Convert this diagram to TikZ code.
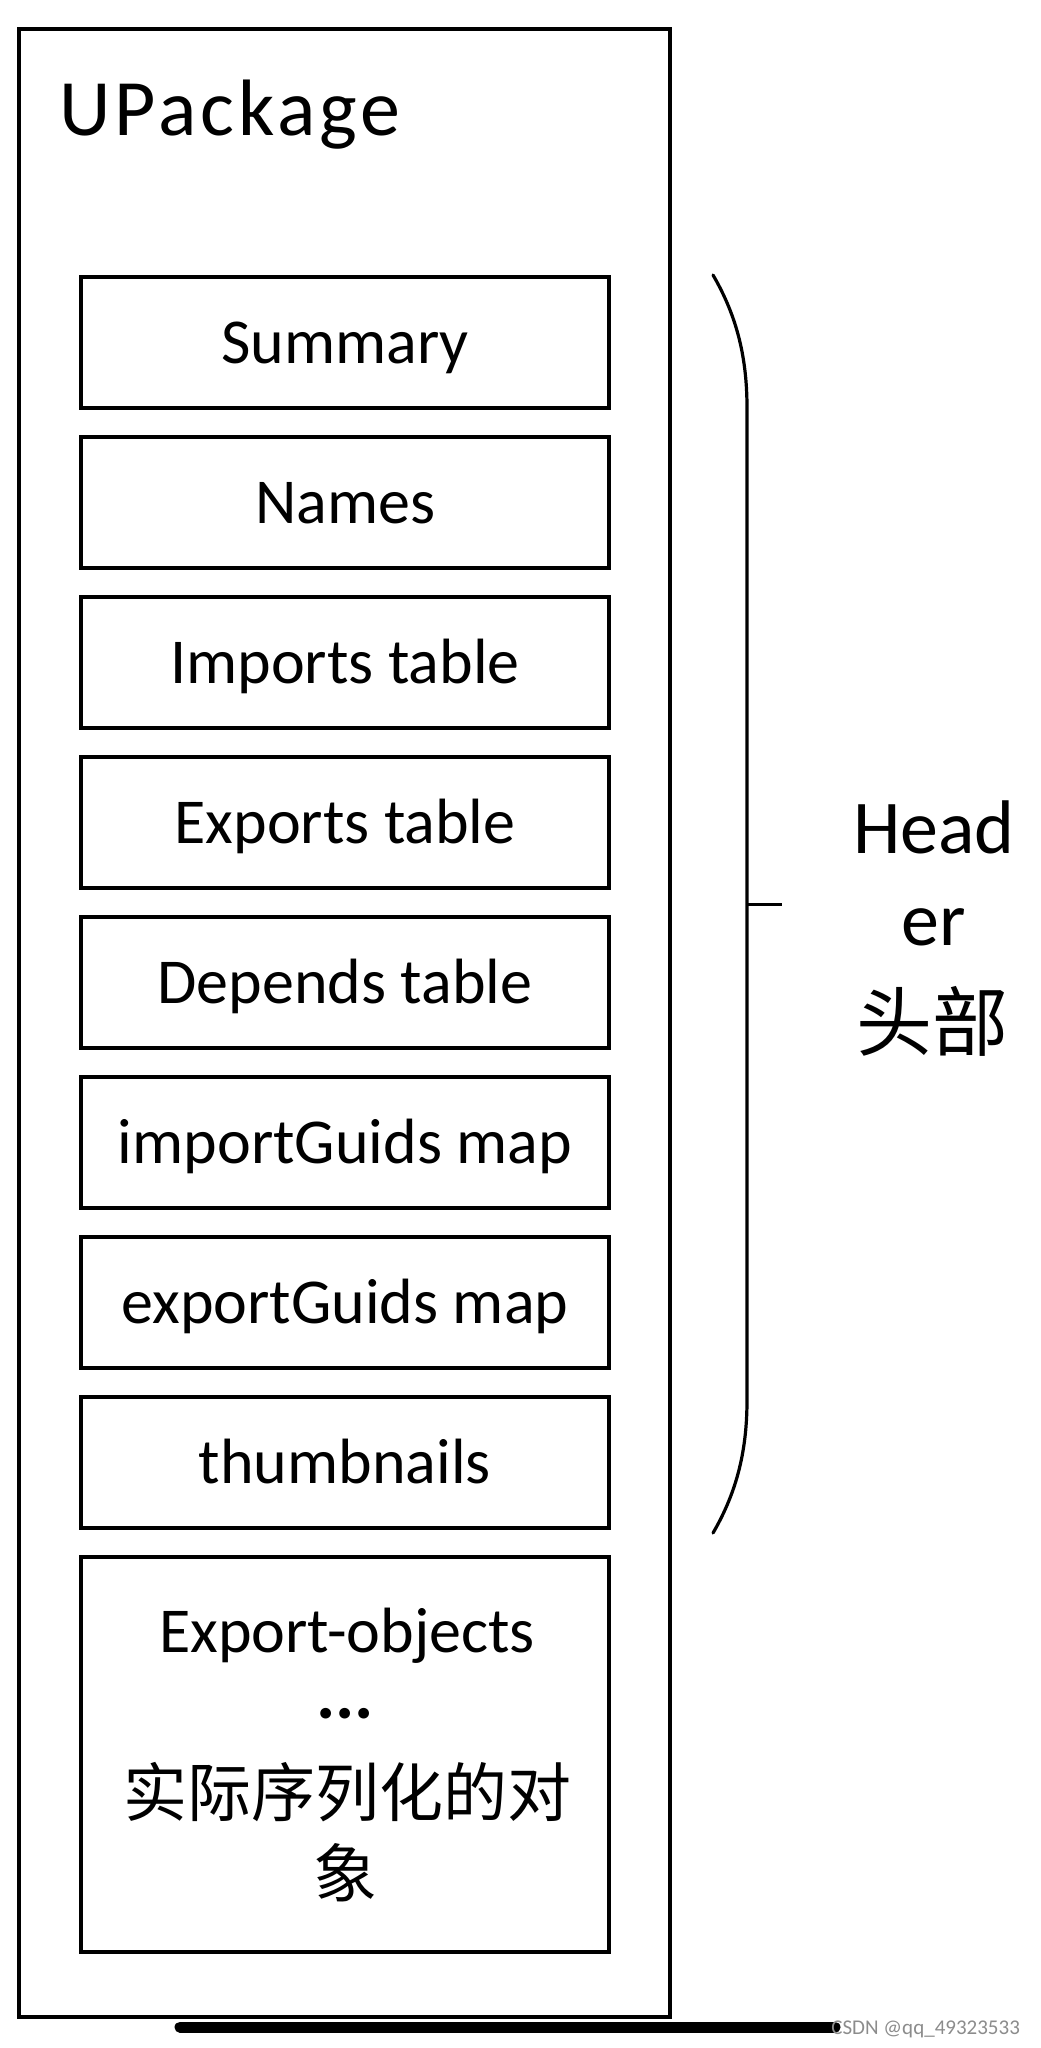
\documentclass[tikz,border=0pt]{standalone}
\usepackage{fontspec}
\setmainfont{Carlito}
\newfontfamily\titlefont[LetterSpace=5]{Carlito}
\newfontfamily\cjk{Noto Sans CJK SC}

\begin{document}
\begin{tikzpicture}[x=0.5pt, y=-0.5pt,
    package/.style ={draw, line width=2pt, minimum width=325.5pt, minimum height=994pt, inner sep=0pt},
    entry/.style ={draw, line width=2pt, minimum width=264pt, minimum height=65.5pt, inner sep=0pt,
      text height=20.6pt, text depth=0pt, font=\fontsize{32}{38}\selectfont},
    txtline/.style ={anchor=base, inner sep=0pt, font=\fontsize{32}{38}\selectfont},
    bracket/.style ={line width=1.6pt, line cap=round}]
   \useasboundingbox (0,0) rectangle (1040,2048);
   \node[package] (pkg) at (344.5,1023) {};
   \node[anchor=base west, inner sep=0pt, font=\fontsize{40}{48}\titlefont] (title) at (59,136) {UPackage};
   % header sections
   \node[entry] (summary) at (345,342.5) {Summary};
   \node[entry] (names) at (345,502.5) {Names};
   \node[entry] (imports) at (345,662.5) {Imports table};
   \node[entry] (exports) at (345,822.5) {Exports table};
   \node[entry] (depends) at (345,982.5) {Depends table};
   \node[entry] (importguids) at (345,1142.5) {importGuids map};
   \node[entry] (exportguids) at (345,1302.5) {exportGuids map};
   \node[entry] (thumbs) at (345,1462.5) {thumbnails};
   % serialized objects
   \node[entry, minimum height=197.5pt] (objects) at (345,1754.5) {};
   \node[txtline] (objA) at (347,1652) {Export-objects};
   \node[txtline, font=\fontsize{36}{42}\bfseries] (objB) at (345,1718) {...};
   \node[txtline, font=\fontsize{32}{38}\cjk] (objC) at (347,1816) {实际序列化的对};
   \node[txtline, font=\fontsize{32}{38}\cjk] (objD) at (345,1897) {象};
   % bracket
   \coordinate (bt) at (713,275);
   \coordinate (bb) at (713,1533);
   \coordinate (bm) at (747,904);
   \coordinate (tick) at (782,904);
   \draw[bracket] (bt) .. controls (738,318) and (747,360) .. (747,408)
      -- (747,1400) .. controls (747,1448) and (738,1490) .. (bb);
   \draw[line width=1.5pt] (bm) -- (tick);
   \node[txtline, font=\fontsize{38}{46}\selectfont] (hdrA) at (934,853) {Head};
   \node[txtline, font=\fontsize{38}{46}\selectfont] (hdrB) at (934,945) {er};
   \node[txtline, font=\fontsize{38}{46}\cjk] (hdrC) at (932,1050) {头部};
   % bottom bar and watermark
   \coordinate (barL) at (180,2027);
   \coordinate (barR) at (835,2027);
   \draw[line width=5.5pt, line cap=round] (barL) -- (barR);
   \node[anchor=base west, inner sep=0pt, text=black!45, font=\fontsize{10.5}{12}\selectfont] (mark) at (831,2034) {CSDN @qq\_49323533};
\end{tikzpicture}
\end{document}
